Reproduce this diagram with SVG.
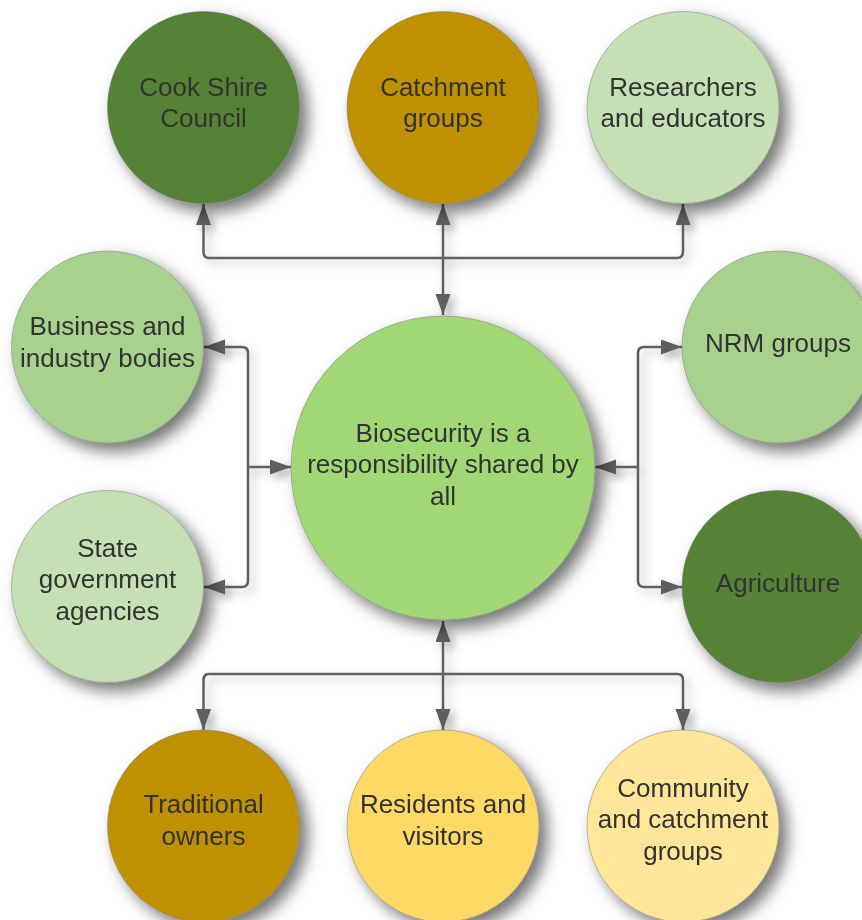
<svg xmlns="http://www.w3.org/2000/svg" width="862" height="920" viewBox="0 0 862 920">
<style>
.node circle{stroke:#7a7a7a;stroke-opacity:0.5;stroke-width:1}
.node text{font-family:"Liberation Sans",Arial,sans-serif;font-size:26px;fill:#333333;text-anchor:middle}
.conn path{fill:none;stroke:#5f5f5f;stroke-width:2.5;marker-end:url(#arr)}
.dg{fill:#548235}.gold{fill:#BF9000}.pale{fill:#C5E0B4}.mid{fill:#A9D18E}.ctr{fill:#A2D774}.yel{fill:#FFD966}.lyel{fill:#FFE699}
</style>
<defs>
<filter id="sh" x="-30%" y="-30%" width="170%" height="170%">
<feDropShadow dx="8" dy="8" stdDeviation="8" flood-color="#000" flood-opacity="0.55"/>
</filter>
<filter id="shl" x="-30%" y="-30%" width="160%" height="160%">
<feDropShadow dx="5" dy="5" stdDeviation="5" flood-color="#000" flood-opacity="0.3"/>
</filter>
<marker id="arr" markerUnits="userSpaceOnUse" markerWidth="22" markerHeight="16" refX="21" refY="7.5" orient="auto">
<path d="M0,0 L21,7.5 L0,15 z" fill="#5f5f5f"/>
</marker>
</defs>
<rect width="862" height="920" fill="#ffffff"/>
<g id="connectors" class="conn" filter="url(#shl)">
<path d="M443,258 V315"/>
<path d="M443,258 V204"/>
<path d="M443,258 H209 Q203.5,258 203.5,252 V204"/>
<path d="M443,258 H677 Q683,258 683,252 V204"/>
<path d="M248,467 H291"/>
<path d="M248,467 V353 Q248,347 242,347 H204"/>
<path d="M248,467 V581 Q248,587 242,587 H204"/>
<path d="M638,467 H595"/>
<path d="M638,467 V353 Q638,347 644,347 H682"/>
<path d="M638,467 V581 Q638,587 644,587 H682"/>
<path d="M443,674 V621"/>
<path d="M443,674 V730"/>
<path d="M443,674 H209 Q203.5,674 203.5,680 V730"/>
<path d="M443,674 H677 Q683,674 683,680 V730"/>
</g>
<g id="node-center" class="node" filter="url(#sh)">
<circle cx="443" cy="468" r="152" class="ctr"/>
<text x="443" y="441.5">Biosecurity is a</text>
<text x="443" y="473.3">responsibility shared by</text>
<text x="443" y="505">all</text>
</g>
<g id="node-cook" class="node" filter="url(#sh)">
<circle cx="203.5" cy="107.5" r="96" class="dg"/>
<text x="203.5" y="95.5">Cook Shire</text>
<text x="203.5" y="127">Council</text>
</g>
<g id="node-catchment" class="node" filter="url(#sh)">
<circle cx="443" cy="107.5" r="96" class="gold"/>
<text x="443" y="95.5">Catchment</text>
<text x="443" y="127">groups</text>
</g>
<g id="node-researchers" class="node" filter="url(#sh)">
<circle cx="683" cy="107.5" r="96" class="pale"/>
<text x="683" y="95.5">Researchers</text>
<text x="683" y="127">and educators</text>
</g>
<g id="node-business" class="node" filter="url(#sh)">
<circle cx="107.5" cy="347" r="96" class="mid"/>
<text x="107.5" y="335">Business and</text>
<text x="107.5" y="366.7">industry bodies</text>
</g>
<g id="node-nrm" class="node" filter="url(#sh)">
<circle cx="778" cy="347" r="96" class="mid"/>
<text x="778" y="351.7">NRM groups</text>
</g>
<g id="node-state" class="node" filter="url(#sh)">
<circle cx="107.5" cy="586.5" r="96" class="pale"/>
<text x="107.5" y="556.7">State</text>
<text x="107.5" y="588.3">government</text>
<text x="107.5" y="620">agencies</text>
</g>
<g id="node-agriculture" class="node" filter="url(#sh)">
<circle cx="778" cy="586.5" r="96" class="dg"/>
<text x="778" y="591.5">Agriculture</text>
</g>
<g id="node-traditional" class="node" filter="url(#sh)">
<circle cx="203.5" cy="826" r="96" class="gold"/>
<text x="203.5" y="813.3">Traditional</text>
<text x="203.5" y="845">owners</text>
</g>
<g id="node-residents" class="node" filter="url(#sh)">
<circle cx="443" cy="826" r="96" class="yel"/>
<text x="443" y="813.3">Residents and</text>
<text x="443" y="845">visitors</text>
</g>
<g id="node-community" class="node" filter="url(#sh)">
<circle cx="683" cy="826" r="96" class="lyel"/>
<text x="683" y="796.7">Community</text>
<text x="683" y="828.3">and catchment</text>
<text x="683" y="860">groups</text>
</g>
</svg>
